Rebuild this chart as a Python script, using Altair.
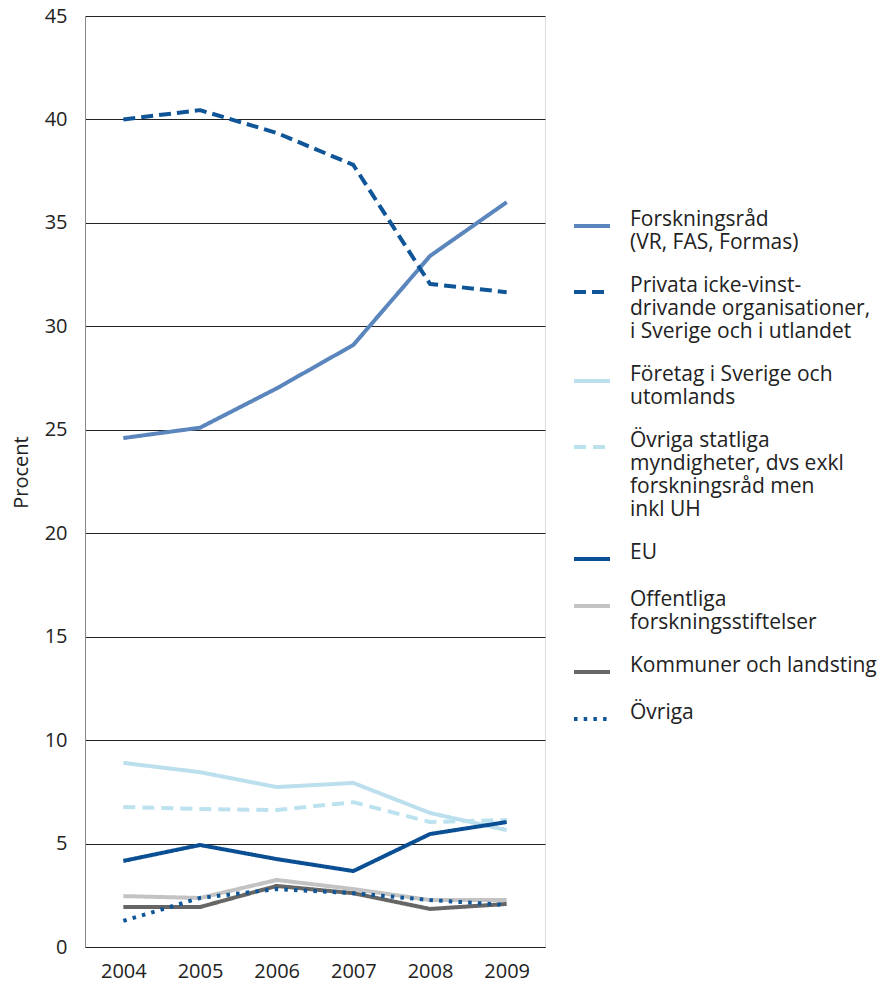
import altair as alt
import pandas as pd

years = [2004, 2005, 2006, 2007, 2008, 2009]

series = [
    "Forskningsråd|(VR, FAS, Formas)",
    "Privata icke-vinst-|drivande organisationer,|i Sverige och i utlandet",
    "Företag i Sverige och|utomlands",
    "Övriga statliga|myndigheter, dvs exkl|forskningsråd men|inkl UH",
    " EU",
    "Offentliga|forskningsstiftelser",
    "Kommuner och landsting",
    "Övriga",
]

forskningsrad = [24.6, 25.1, 27.0, 29.1, 33.4, 36.0]
privata = [40.0, 40.45, 39.35, 37.8, 32.05, 31.65]
foretag = [8.9, 8.45, 7.73, 7.93, 6.48, 5.65]
ovriga_statliga = [6.77, 6.67, 6.62, 7.0, 6.04, 6.14]
eu = [4.16, 4.93, 4.25, 3.67, 5.46, 6.04]
offentliga = [2.46, 2.37, 3.24, 2.8, 2.27, 2.27]
kommuner = [1.93, 1.93, 2.95, 2.6, 1.84, 2.08]
ovriga = [1.26, 2.37, 2.8, 2.6, 2.27, 2.03]

values = [forskningsrad, privata, foretag, ovriga_statliga, eu, offentliga, kommuner, ovriga]

colors = ["#5b86bd", "#0f5597", "#bcdfee", "#bde2ef", "#0a4f93", "#c3c3c3", "#666666", "#0f5597"]
dashes = [[1, 0], [12, 6], [1, 0], [12, 7], [1, 0], [1, 0], [1, 0], [3.5, 6.2]]

rows = []
for name, vals in zip(series, values):
    for y, v in zip(years, vals):
        rows.append({"Serie": name, "År": y, "Procent": v})
df = pd.DataFrame(rows)

FONT = "Open Sans"

chart = alt.Chart(df).mark_line(strokeWidth=4, strokeJoin="round").encode(
    x=alt.X("År:Q", scale=alt.Scale(domain=[2003.5, 2009.5], nice=False, zero=False),
            axis=alt.Axis(values=years, format="d", title=None, grid=False, ticks=False,
                          domain=True, domainColor="#222222", labelFontSize=20, labelPadding=14,
                          labelColor="#222222", labelFont=FONT)),
    y=alt.Y("Procent:Q", scale=alt.Scale(domain=[0, 45], nice=False),
            axis=alt.Axis(values=list(range(0, 50, 5)), title="Procent", grid=True,
                          gridColor="#222222", gridWidth=1, ticks=False, domain=True,
                          domainColor="#888888", labelFontSize=20, labelPadding=18,
                          labelColor="#222222", labelFont=FONT, titleFont=FONT,
                          titleFontSize=20, titleFontWeight="normal", titleColor="#222222",
                          titlePadding=13, titleY=456)),
    color=alt.Color("Serie:N", scale=alt.Scale(domain=series, range=colors),
                    legend=alt.Legend(title=None, orient="none", legendX=487, legendY=190,
                                      symbolType="stroke", symbolSize=1296, symbolStrokeWidth=4,
                                      labelFontSize=21, labelFont=FONT, labelColor="#222222",
                                      labelLimit=0, labelOffset=18, rowPadding=19,
                                      labelBaseline="alphabetic",
                                      labelExpr="split(datum.label, '|')")),
    strokeDash=alt.StrokeDash("Serie:N", scale=alt.Scale(domain=series, range=dashes), legend=None),
    order=alt.Order("År:Q"),
).properties(
    width=460, height=931,
    autosize=alt.AutoSizeParams(type="none"),
    padding={"left": 77, "top": 8, "right": 332, "bottom": 40},
).configure_view(stroke=None).configure(font=FONT)

chart.save("out.html", embed_options={"renderer": "svg", "actions": False})
